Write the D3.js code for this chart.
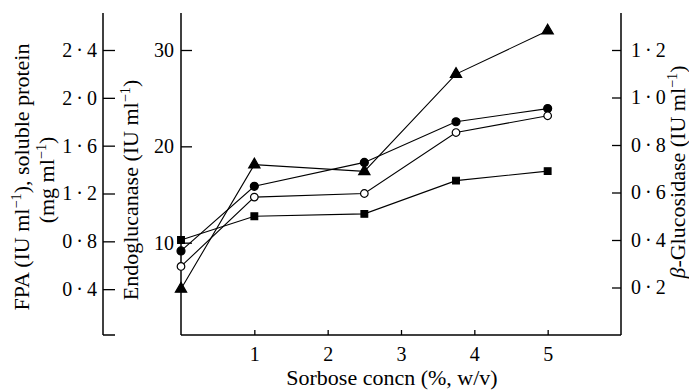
<!DOCTYPE html>
<html><head><meta charset="utf-8">
<script src="https://cdn.jsdelivr.net/npm/d3@7"></script>
<style>
body{margin:0;background:#fff;}
svg text{font-family:"Liberation Serif","Times New Roman",serif;fill:#000;}
</style></head>
<body><svg id="c" width="689" height="392"></svg>
<script>
// Data
const sorbose = [0, 1, 2.5, 3.75, 5];
const endoglucanase = [5.2, 18.1, 17.4, 27.5, 32.0];      // ▲ left inner axis
const solubleProtein = [0.72, 1.26, 1.46, 1.80, 1.91];     // ● left outer axis
const fpa = [0.59, 1.17, 1.20, 1.71, 1.85];                // ○ left outer axis
const betaGlucosidase = [0.40, 0.50, 0.51, 0.65, 0.69];   // ■ right axis
const xTicks = [1, 2, 3, 4, 5];
const fpaTicks = [0.4, 0.8, 1.2, 1.6, 2.0, 2.4];
const endoTicks = [10, 20, 30];
const betaTicks = [0.2, 0.4, 0.6, 0.8, 1.0, 1.2];

const svg = d3.select("#c");
const plotTop = 13, plotBottom = 335;
const xL = 181, xR = 621, fpaX = 103;

const x = d3.scaleLinear([0, 6], [181, 621]);
const yF = d3.scaleLinear([0, 2.4], [337, 50]);
const yE = d3.scaleLinear([0, 30], [339, 50]);
const yB = d3.scaleLinear([0, 1.2], [335, 50]);

const fmt = v => d3.format(".1f")(v).replace(".", "\u2009·\u2009");
const fs = 20, ts = 22;

// axis frames
const ax = svg.append("g").attr("stroke", "#000").attr("stroke-width", 1.5).attr("fill", "none");
ax.append("line").attr("x1", fpaX).attr("x2", fpaX).attr("y1", plotTop).attr("y2", plotBottom);
ax.append("line").attr("x1", fpaX).attr("x2", fpaX + 12).attr("y1", plotBottom).attr("y2", plotBottom);
ax.append("line").attr("x1", xL).attr("x2", xL).attr("y1", plotTop).attr("y2", plotBottom);
ax.append("line").attr("x1", xR).attr("x2", xR).attr("y1", plotTop).attr("y2", plotBottom);
ax.append("line").attr("x1", xL).attr("x2", xR).attr("y1", plotBottom).attr("y2", plotBottom);

function styleAxis(g){
  g.select(".domain").remove();
  g.selectAll(".tick line").attr("stroke", "#000").attr("stroke-width", 1.3);
  g.selectAll(".tick text").attr("font-size", fs).attr("font-family", "Liberation Serif");
}

svg.append("g").attr("transform", `translate(${fpaX},0)`)
  .call(d3.axisLeft(yF).tickValues(fpaTicks).tickFormat(fmt).tickSize(-12).tickPadding(6))
  .call(styleAxis);
svg.append("g").attr("transform", `translate(${xL},0)`)
  .call(d3.axisLeft(yE).tickValues(endoTicks).tickFormat(d3.format("d")).tickSize(-11).tickPadding(7))
  .call(styleAxis);
svg.append("g").attr("transform", `translate(${xR},0)`)
  .call(d3.axisRight(yB).tickValues(betaTicks).tickFormat(fmt).tickSize(-9).tickPadding(10))
  .call(styleAxis);
svg.append("g").attr("transform", `translate(0,${plotBottom})`)
  .call(d3.axisBottom(x).tickValues(xTicks).tickFormat(d3.format("d")).tickSize(-5).tickPadding(12))
  .call(styleAxis);

// axis titles
svg.append("text").attr("x", 392).attr("y", 385).attr("text-anchor", "middle").attr("font-size", ts)
  .text("Sorbose concn (%, w/v)");

function vlabel(cx, cy, parts){
  const t = svg.append("text").attr("transform", `translate(${cx},${cy}) rotate(-90)`)
    .attr("text-anchor", "middle").attr("font-size", ts);
  parts.forEach(p => {
    const s = t.append("tspan").text(p[0]);
    if (p[1]) s.attr("font-size", ts * 0.65).attr("baseline-shift", "super");
    if (p[2]) s.attr("font-style", "italic");
  });
  return t;
}
vlabel(29, 177, [["FPA (IU ml"], ["\u22121", true], ["), soluble protein"]]);
vlabel(54, 180, [["(mg ml"], ["\u22121", true], [")"]]);
vlabel(138, 190, [["Endoglucanase (IU ml"], ["\u22121", true], [")"]]);
vlabel(685, 172, [["β", false, true], ["-Glucosidase (IU ml"], ["\u22121", true], [")"]]);

// series
const series = [
  {v: endoglucanase, y: yE, sym: d3.symbolTriangle, fill: "#000", size: 55},
  {v: solubleProtein, y: yF, sym: d3.symbolCircle, fill: "#000", size: 50},
  {v: fpa, y: yF, sym: d3.symbolCircle, fill: "#fff", size: 45},
  {v: betaGlucosidase, y: yB, sym: d3.symbolSquare, fill: "#000", size: 45}
];
series.forEach(s => {
  const line = d3.line().x((d, i) => x(sorbose[i])).y(d => s.y(d));
  svg.append("path").datum(s.v).attr("d", line).attr("fill", "none").attr("stroke", "#000").attr("stroke-width", 1.1);
});
series.forEach(s => {
  svg.append("g").selectAll("path").data(s.v).join("path")
    .attr("transform", (d, i) => `translate(${x(sorbose[i])},${s.y(d)})`)
    .attr("d", d3.symbol(s.sym, s.size))
    .attr("fill", s.fill).attr("stroke", "#000").attr("stroke-width", 1.2);
});
</script></body></html>
